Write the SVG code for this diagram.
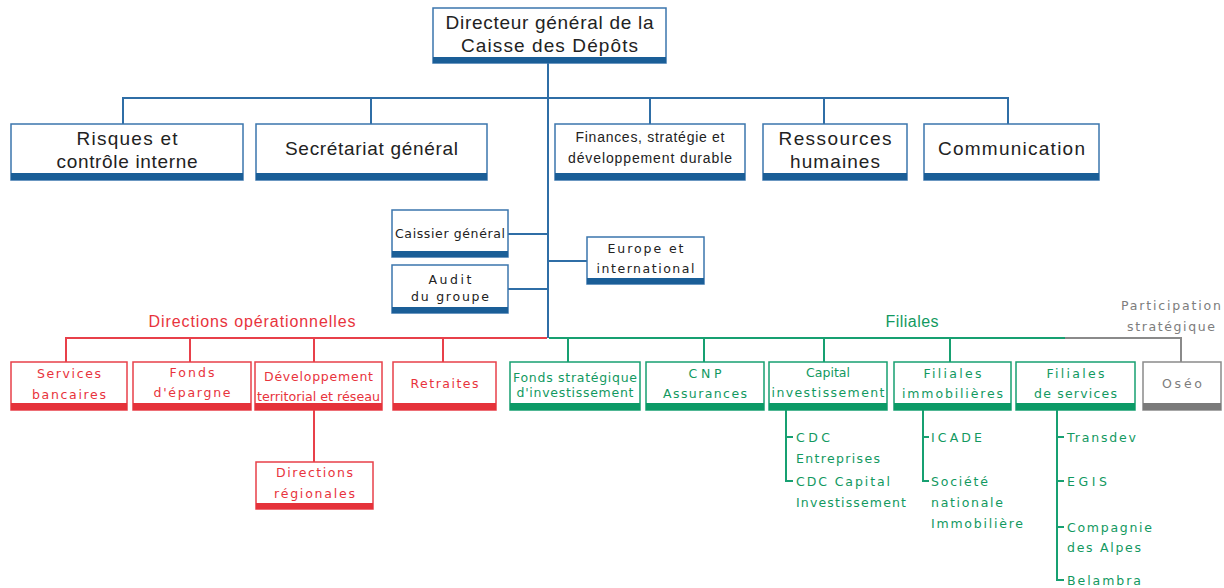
<svg xmlns="http://www.w3.org/2000/svg" width="1224" height="588" viewBox="0 0 1224 588">
<style>
.bg{fill:#ffffff}
.bb{fill:#ffffff;stroke:#3b76ad;stroke-width:1.5}
.rb{fill:#ffffff;stroke:#e8404a;stroke-width:1.5}
.gb{fill:#ffffff;stroke:#17a071;stroke-width:1.5}
.yb{fill:#ffffff;stroke:#8a8a8a;stroke-width:1.5}
.bbar{fill:#1a5e97}
.rbar{fill:#e5323a}
.gbar{fill:#0b9a66}
.ybar{fill:#7a7a7a}
.t18{font-family:"Liberation Sans",Arial,sans-serif;font-size:19px;fill:#222;text-anchor:middle}
.t14{font-family:"Liberation Sans",Arial,sans-serif;font-size:14px;fill:#222;text-anchor:middle}
.s13{font-family:"DejaVu Sans",Verdana,sans-serif;font-size:12.5px;fill:#222;text-anchor:middle}
.r13{font-family:"DejaVu Sans",Verdana,sans-serif;font-size:12.5px;fill:#e8333c;text-anchor:middle}
.g13{font-family:"DejaVu Sans",Verdana,sans-serif;font-size:12.5px;fill:#12995f;text-anchor:middle}
.gl13{font-family:"DejaVu Sans",Verdana,sans-serif;font-size:12.5px;fill:#12995f}
.y13{font-family:"DejaVu Sans",Verdana,sans-serif;font-size:12.5px;fill:#7d7d7d;text-anchor:middle}
.rlab{font-family:"Liberation Sans",Arial,sans-serif;font-size:16px;fill:#e8333c;text-anchor:middle}
.glab{font-family:"Liberation Sans",Arial,sans-serif;font-size:16px;fill:#12995f;text-anchor:middle}
.bl{stroke:#2f6ea6;stroke-width:2;fill:none}
.rl{stroke:#e8404a;stroke-width:2;fill:none}
.gl{stroke:#17a071;stroke-width:2;fill:none}
.yl{stroke:#8a8a8a;stroke-width:2;fill:none}
</style>
<rect class="bg" x="0" y="0" width="1224" height="588"/>

<g id="connectors">
  <line class="bl" x1="548" y1="63" x2="548" y2="338"/>
  <polyline class="bl" points="123,124 123,98 1008,98 1008,124"/>
  <line class="bl" x1="371" y1="98" x2="371" y2="124"/>
  <line class="bl" x1="650" y1="98" x2="650" y2="124"/>
  <line class="bl" x1="824" y1="98" x2="824" y2="124"/>
  <line class="bl" x1="508" y1="234" x2="548" y2="234"/>
  <line class="bl" x1="508" y1="289" x2="548" y2="289"/>
  <line class="bl" x1="548" y1="261" x2="587" y2="261"/>
  <polyline class="rl" points="66,362 66,338 547,338"/>
  <line class="rl" x1="190" y1="338" x2="190" y2="362"/>
  <line class="rl" x1="314" y1="338" x2="314" y2="362"/>
  <line class="rl" x1="443" y1="338" x2="443" y2="362"/>
  <line class="rl" x1="314" y1="410" x2="314" y2="462"/>
  <line class="gl" x1="549" y1="338" x2="1065" y2="338"/>
  <line class="gl" x1="568" y1="338" x2="568" y2="362"/>
  <line class="gl" x1="704" y1="338" x2="704" y2="362"/>
  <line class="gl" x1="824" y1="338" x2="824" y2="362"/>
  <line class="gl" x1="950" y1="338" x2="950" y2="362"/>
  <polyline class="yl" points="1065,338 1181,338 1181,362"/>
  <polyline class="gl" points="786,410 786,481 793,481"/>
  <line class="gl" x1="786" y1="437" x2="793" y2="437"/>
  <polyline class="gl" points="923,410 923,481 929,481"/>
  <line class="gl" x1="923" y1="437" x2="929" y2="437"/>
  <polyline class="gl" points="1057,410 1057,580 1064,580"/>
  <line class="gl" x1="1057" y1="437" x2="1064" y2="437"/>
  <line class="gl" x1="1057" y1="481" x2="1064" y2="481"/>
  <line class="gl" x1="1057" y1="527" x2="1064" y2="527"/>
</g>

<g id="directeur">
  <rect class="bb" x="433" y="8" width="233" height="55"/>
  <rect class="bbar" x="433" y="57" width="233" height="6"/>
  <text class="t18" x="549.5" y="28.5" textLength="208">Directeur général de la</text>
  <text class="t18" x="549.5" y="51.5" textLength="177">Caisse des Dépôts</text>
</g>

<g id="risques">
  <rect class="bb" x="11" y="124" width="232" height="56"/>
  <rect class="bbar" x="11" y="173" width="232" height="7"/>
  <text class="t18" x="127" y="144.5" textLength="101">Risques et</text>
  <text class="t18" x="127" y="167.5" textLength="141">contrôle interne</text>
</g>

<g id="secretariat">
  <rect class="bb" x="256" y="124" width="231" height="56"/>
  <rect class="bbar" x="256" y="173" width="231" height="7"/>
  <text class="t18" x="371.5" y="154.5" textLength="173">Secrétariat général</text>
</g>

<g id="finances">
  <rect class="bb" x="555" y="124" width="190" height="56"/>
  <rect class="bbar" x="555" y="173" width="190" height="7"/>
  <text class="t14" x="650" y="142" textLength="149">Finances, stratégie et</text>
  <text class="t14" x="650" y="163" textLength="164">développement durable</text>
</g>

<g id="ressources">
  <rect class="bb" x="763" y="124" width="144" height="56"/>
  <rect class="bbar" x="763" y="173" width="144" height="7"/>
  <text class="t18" x="835" y="144.5" textLength="113">Ressources</text>
  <text class="t18" x="835" y="167.5" textLength="90">humaines</text>
</g>

<g id="communication">
  <rect class="bb" x="924" y="124" width="175" height="56"/>
  <rect class="bbar" x="924" y="173" width="175" height="7"/>
  <text class="t18" x="1011.5" y="154.5" textLength="147">Communication</text>
</g>

<g id="caissier">
  <rect class="bb" x="392" y="210" width="116" height="47"/>
  <rect class="bbar" x="392" y="251" width="116" height="6"/>
  <text class="s13" x="450" y="237.5" textLength="110">Caissier général</text>
</g>

<g id="audit">
  <rect class="bb" x="392" y="265" width="116" height="48"/>
  <rect class="bbar" x="392" y="307" width="116" height="6"/>
  <text class="s13" x="450" y="283.5" textLength="43">Audit</text>
  <text class="s13" x="450" y="300.5" textLength="78">du groupe</text>
</g>

<g id="europe">
  <rect class="bb" x="587" y="237" width="117" height="47"/>
  <rect class="bbar" x="587" y="278" width="117" height="6"/>
  <text class="s13" x="645.5" y="252.5" textLength="76">Europe et</text>
  <text class="s13" x="645.5" y="272.5" textLength="98">international</text>
</g>

<g id="label-directions">
  <text class="rlab" x="252" y="326.5" textLength="207">Directions opérationnelles</text>
</g>
<g id="label-filiales">
  <text class="glab" x="912" y="326.5" textLength="53">Filiales</text>
</g>
<g id="label-participation">
  <text class="y13" x="1171" y="309.5" textLength="100">Participation</text>
  <text class="y13" x="1171" y="330.5" textLength="88">stratégique</text>
</g>

<g id="services-bancaires">
  <rect class="rb" x="11" y="362" width="116" height="48"/>
  <rect class="rbar" x="11" y="403" width="116" height="7"/>
  <text class="r13" x="69" y="377.5" textLength="64">Services</text>
  <text class="r13" x="69" y="398.5" textLength="74">bancaires</text>
</g>

<g id="fonds-epargne">
  <rect class="rb" x="133" y="362" width="118" height="48"/>
  <rect class="rbar" x="133" y="403" width="118" height="7"/>
  <text class="r13" x="192" y="376.5" textLength="45">Fonds</text>
  <text class="r13" x="192" y="396.5" textLength="77">d'épargne</text>
</g>

<g id="developpement">
  <rect class="rb" x="255" y="362" width="127" height="48"/>
  <rect class="rbar" x="255" y="403" width="127" height="7"/>
  <text class="r13" x="318.5" y="380.5" textLength="109">Développement</text>
  <text class="r13" x="318.5" y="400.5" textLength="123" lengthAdjust="spacingAndGlyphs">territorial et réseau</text>
</g>

<g id="retraites">
  <rect class="rb" x="393" y="362" width="103" height="48"/>
  <rect class="rbar" x="393" y="403" width="103" height="7"/>
  <text class="r13" x="444.5" y="387.5" textLength="68">Retraites</text>
</g>

<g id="directions-regionales">
  <rect class="rb" x="256" y="462" width="117" height="47"/>
  <rect class="rbar" x="256" y="503" width="117" height="6"/>
  <text class="r13" x="314.5" y="476.5" textLength="77">Directions</text>
  <text class="r13" x="314.5" y="497.5" textLength="81">régionales</text>
</g>

<g id="fonds-strategique">
  <rect class="gb" x="510" y="362" width="130" height="48"/>
  <rect class="gbar" x="510" y="403" width="130" height="7"/>
  <text class="g13" x="575" y="381.5" textLength="124">Fonds stratégique</text>
  <text class="g13" x="575" y="396.5" textLength="117">d'investissement</text>
</g>

<g id="cnp">
  <rect class="gb" x="646" y="362" width="118" height="48"/>
  <rect class="gbar" x="646" y="403" width="118" height="7"/>
  <text class="g13" x="705" y="377.5" textLength="33">CNP</text>
  <text class="g13" x="705" y="397.5" textLength="84">Assurances</text>
</g>

<g id="capital">
  <rect class="gb" x="769" y="362" width="118" height="48"/>
  <rect class="gbar" x="769" y="403" width="118" height="7"/>
  <text class="g13" x="828" y="376.5" textLength="44">Capital</text>
  <text class="g13" x="828" y="396.5" textLength="113">investissement</text>
</g>

<g id="filiales-immobilieres">
  <rect class="gb" x="894" y="362" width="117" height="48"/>
  <rect class="gbar" x="894" y="403" width="117" height="7"/>
  <text class="g13" x="952.5" y="377.5" textLength="58">Filiales</text>
  <text class="g13" x="952.5" y="397.5" textLength="101">immobilières</text>
</g>

<g id="filiales-services">
  <rect class="gb" x="1016" y="362" width="119" height="48"/>
  <rect class="gbar" x="1016" y="403" width="119" height="7"/>
  <text class="g13" x="1075.5" y="377.5" textLength="58">Filiales</text>
  <text class="g13" x="1075.5" y="397.5" textLength="83">de services</text>
</g>

<g id="oseo">
  <rect class="yb" x="1143" y="362" width="78" height="48"/>
  <rect class="ybar" x="1143" y="403" width="78" height="7"/>
  <text class="y13" x="1182" y="387.5" textLength="40">Oséo</text>
</g>

<g id="liste-capital">
  <text class="gl13" x="796" y="441.5" textLength="34">CDC</text>
  <text class="gl13" x="796" y="462.5" textLength="84">Entreprises</text>
  <text class="gl13" x="796" y="485.5" textLength="94">CDC Capital</text>
  <text class="gl13" x="796" y="506.5" textLength="110">Investissement</text>
</g>

<g id="liste-immobilieres">
  <text class="gl13" x="931" y="441.5" textLength="51">ICADE</text>
  <text class="gl13" x="931" y="485.5" textLength="57">Société</text>
  <text class="gl13" x="931" y="506.5" textLength="72">nationale</text>
  <text class="gl13" x="931" y="527.5" textLength="92">Immobilière</text>
</g>

<g id="liste-services">
  <text class="gl13" x="1067" y="441.5" textLength="69">Transdev</text>
  <text class="gl13" x="1067" y="485.5" textLength="40">EGIS</text>
  <text class="gl13" x="1067" y="531.5" textLength="85">Compagnie</text>
  <text class="gl13" x="1067" y="551.5" textLength="74">des Alpes</text>
  <text class="gl13" x="1067" y="584.5" textLength="74">Belambra</text>
</g>
</svg>
